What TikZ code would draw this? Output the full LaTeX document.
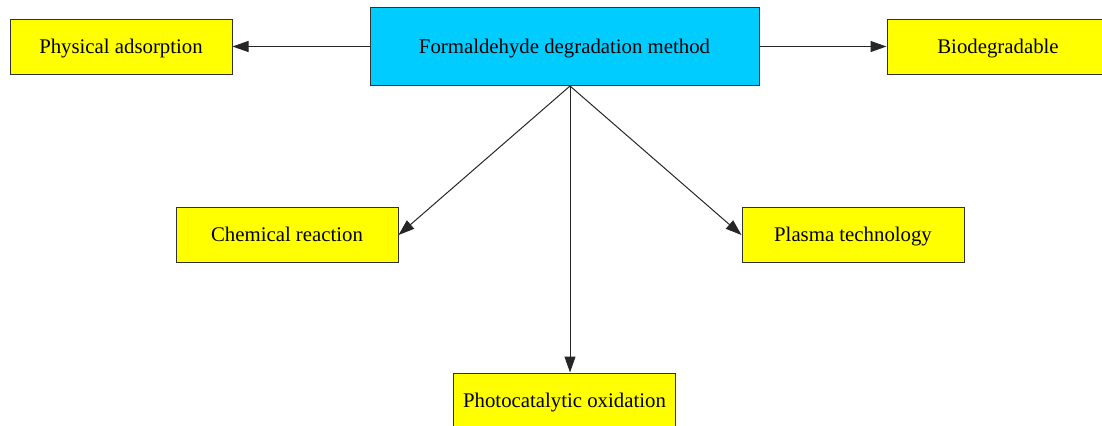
\documentclass[tikz,border=0pt]{standalone}
\usepackage{fontspec}
\setmainfont{Liberation Serif}
\usetikzlibrary{arrows.meta}
\definecolor{boxyellow}{HTML}{FFFF00}
\definecolor{boxcyan}{HTML}{00CCFF}

\begin{document}
\begin{tikzpicture}[x=0.5pt, y=-0.5pt,
    method/.style={draw=black!80, line width=0.5pt, fill=boxyellow, minimum width=111pt, minimum height=27.5pt, inner sep=0pt, text height=9pt, text depth=2.5pt, font=\fontsize{10.4}{12}\selectfont},
    root/.style={method, fill=boxcyan, minimum width=194.5pt, minimum height=39pt},
    link/.style={-{Triangle[length=8pt,width=5.5pt]}, line width=0.5pt, black!85}]
    \useasboundingbox (0,0) rectangle (1102,425);

    % Central node
    \node[root] (root) at (564.5,46.5) {Formaldehyde degradation method};

    % First row
    \node[method] (phys) at (121,46.5) {Physical adsorption};
    \node[method] (bio) at (998,46.5) {Biodegradable};

    % Second row
    \node[method] (chem) at (287,235) {Chemical reaction};
    \node[method] (plasma) at (853,235) {Plasma technology};

    % Bottom
    \node[method] (photo) at (564.5,400.5) {Photocatalytic oxidation};

    % Arrows
    \draw[link] (root.west) -- (phys.east);
    \draw[link] (root.east) -- (bio.west);
    \draw[link] ([xshift=2.75pt]root.south) -- (chem.east);
    \draw[link] ([xshift=2.75pt]root.south) -- (plasma.west);
    \draw[link] ([xshift=2.75pt]root.south) -- ([xshift=2.75pt]photo.north);
\end{tikzpicture}
\end{document}
